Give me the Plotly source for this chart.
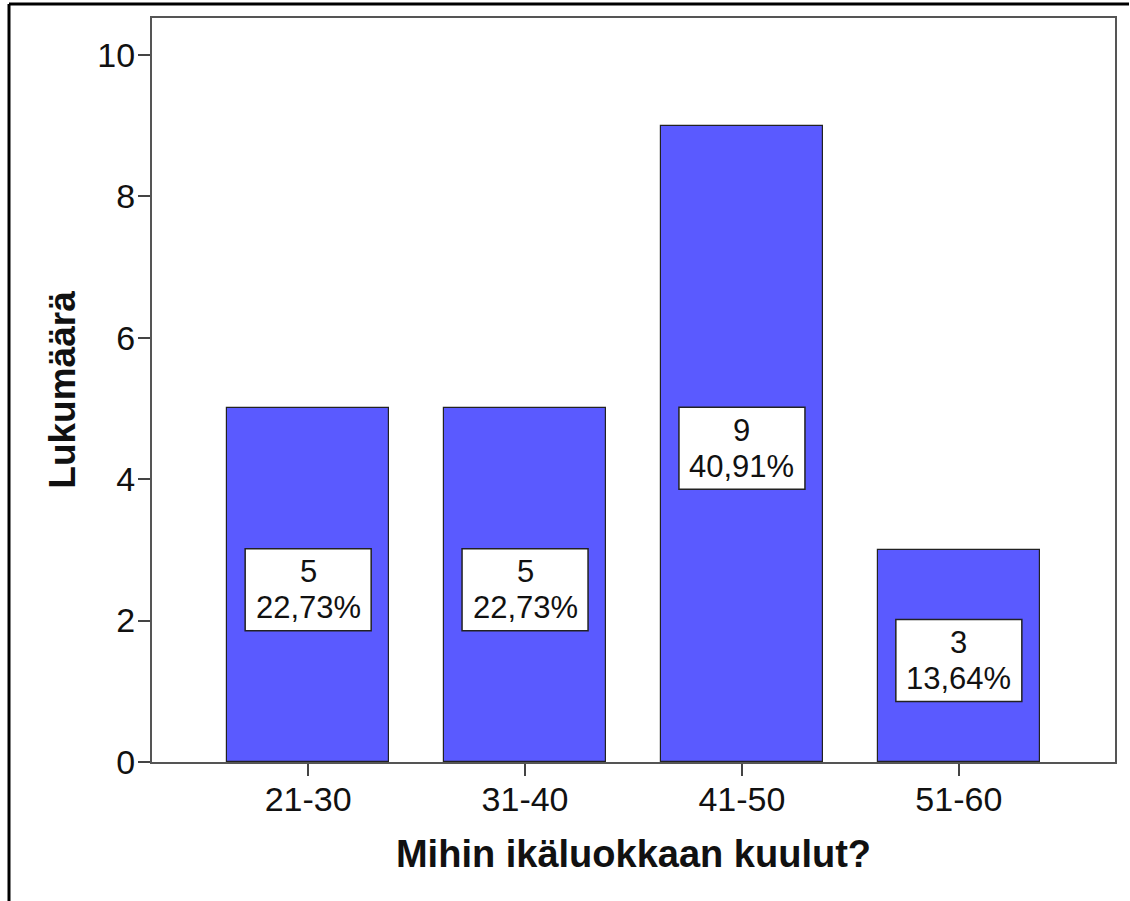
import plotly.graph_objects as go

categories = ["21-30", "31-40", "41-50", "51-60"]
counts = [5, 5, 9, 3]
percents = ["22,73%", "22,73%", "40,91%", "13,64%"]
y_ticks = [0, 2, 4, 6, 8, 10]

FONT = "Liberation Sans, Arial, sans-serif"

# plot area position in the page (pixels)
L, R, T, B = 152, 1115, 18, 762
FW, FH = 1130, 901
W, H = R - L, B - T

fig = go.Figure()
fig.add_trace(go.Bar(
    x=list(range(len(categories))), y=counts, width=0.747,
    marker=dict(color="#5a5aff", line=dict(color="#222222", width=1.2)),
    hoverinfo="skip",
))

for i, (c, p) in enumerate(zip(counts, percents)):
    fig.add_shape(
        type="rect", xref="x", yref="y",
        xsizemode="pixel", xanchor=i, x0=-63, x1=63,
        ysizemode="pixel", yanchor=c / 2, y0=-45.5, y1=36.5,
        fillcolor="white", line=dict(color="#222222", width=1.5), layer="above",
    )
    fig.add_annotation(
        x=i, y=c / 2, xref="x", yref="y", yshift=-4.5 + 18,
        text=str(c), showarrow=False,
        font=dict(family=FONT, size=31, color="#111111"),
    )
    fig.add_annotation(
        x=i, y=c / 2, xref="x", yref="y", yshift=-4.5 - 18,
        text=p, showarrow=False,
        font=dict(family=FONT, size=31, color="#111111"),
    )

def px(x):
    return (x - L) / W
def py(y):
    return (B - y) / H
fig.add_shape(type="line", xref="paper", yref="paper", x0=px(9), x1=px(1129), y0=py(4), y1=py(4),
              line=dict(color="black", width=3))
fig.add_shape(type="line", xref="paper", yref="paper", x0=px(9), x1=px(9), y0=py(4), y1=py(905),
              line=dict(color="black", width=3))

fig.update_xaxes(
    range=[-0.72, 3.72], tickmode="array", tickvals=list(range(len(categories))), ticktext=categories,
    ticks="outside", ticklen=12, tickwidth=1.5, tickcolor="#444444", ticklabelstandoff=-6,
    showline=True, linecolor="#555555", linewidth=2, mirror=True, showgrid=False, zeroline=False,
    tickfont=dict(family=FONT, size=34, color="#111111"),
    title=dict(text="<b>Mihin ikäluokkaan kuulut?</b>", font=dict(family=FONT, size=38, color="#111111"), standoff=24),
)
fig.update_yaxes(
    range=[0, 10.52], tickmode="array", tickvals=y_ticks,
    ticks="outside", ticklen=12, tickwidth=1.5, tickcolor="#444444", ticklabelstandoff=-4,
    showline=True, linecolor="#555555", linewidth=2, mirror=True, showgrid=False, zeroline=False,
    tickfont=dict(family=FONT, size=34, color="#111111"),
    title=dict(text="<b>Lukumäärä</b>", font=dict(family=FONT, size=37, color="#111111"), standoff=10),
)

fig.update_layout(
    width=FW, height=FH, autosize=False,
    margin=dict(l=L, r=FW - R, t=T, b=FH - B),
    paper_bgcolor="white", plot_bgcolor="white", showlegend=False,
    bargap=0,
)

fig.write_html("out.html", config={"displayModeBar": False},
               post_script="document.body.style.margin='0px';")
